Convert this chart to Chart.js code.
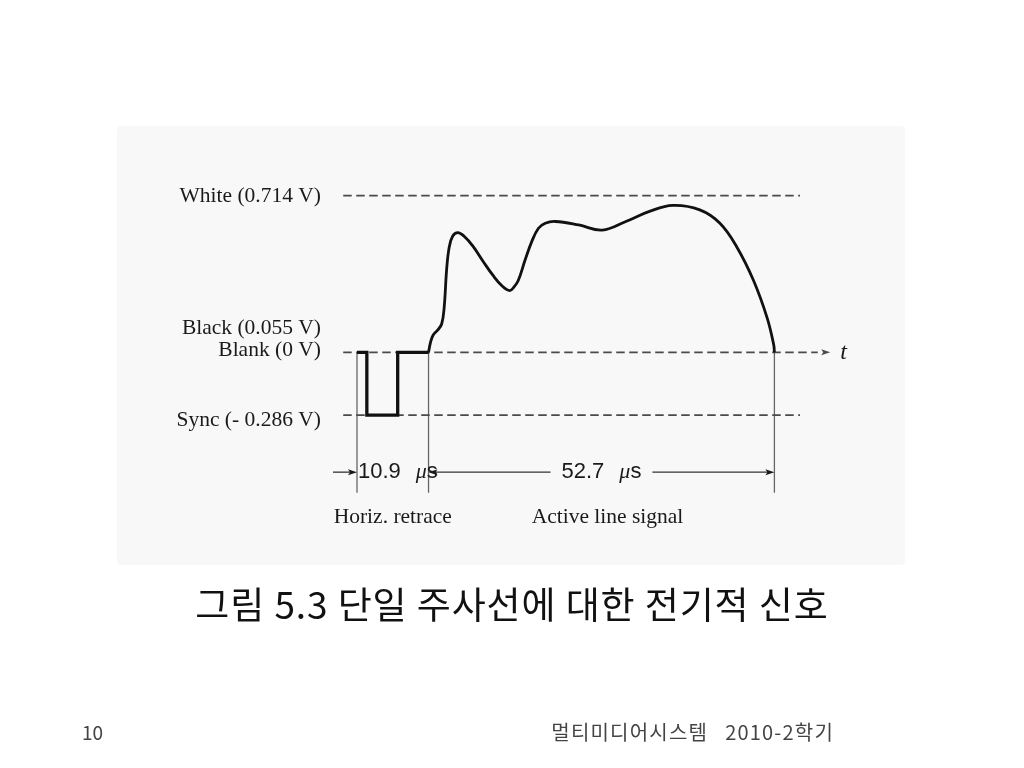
<!DOCTYPE html>
<html>
<head>
<meta charset="utf-8">
<script src="https://cdn.jsdelivr.net/npm/chart.js@4.4.0/dist/chart.umd.min.js"></script>
<style>
    html, body { margin: 0; padding: 0; background: #fff; }
    body { width: 1024px; height: 768px; position: relative; overflow: hidden; }
    #panel { position: absolute; left: 117px; top: 126px; width: 788px; height: 439px; background: #f8f8f8; border-radius: 4px; }
    #chart { position: absolute; left: 0; top: 0; }
    .caption { position: absolute; left: 0; width: 1024px; top: 585px; line-height: 36px; text-align: center;
               font-family: "Noto Sans CJK KR", sans-serif; font-size: 37px; letter-spacing: 0.9px; color: #111; }
    .footer { position: absolute; top: 722px; line-height: 20px; font-family: "Noto Sans CJK KR", sans-serif; font-size: 20px; color: #444; }
</style>
</head>
<body>
<div id="panel"></div>
<canvas id="chart" width="1024" height="768"></canvas>
<div class="caption">그림 5.3 단일 주사선에 대한 전기적 신호</div>
<div class="footer" style="left:82px; font-size:19px">10</div>
<div class="footer" style="right:190px; letter-spacing:1.2px">멀티미디어시스템&nbsp;&nbsp; 2010-2학기</div>
<script>
// signal levels (volts)
const levelLabels = ["White (0.714 V)", "Black (0.055 V)", "Blank (0 V)", "Sync (- 0.286 V)"];
const levelVolts = [0.714, 0.055, 0, -0.286];
const dashedLevels = [0.714, 0, -0.286];
const dashedFrom = -2.1;
const dashedTo = 67.5;
const axisTo = 70.2;
const axisTip = 72.1;

// horizontal retrace (time in microseconds)
const retraceTimes = [0, 1.5, 1.5, 6.2, 6.2, 10.9];
const retraceVolts = [0, 0, -0.286, -0.286, 0, 0];

// active line signal
const activeTimes = [10.9, 11.21, 11.59, 12.28, 12.9, 13.28, 13.67, 14.05, 14.59, 15.36, 16.28, 17.66,
    19.2, 20.73, 22.12, 23.27, 23.96, 24.57, 25.6, 26.61, 27.65, 28.68, 30.21, 33.79, 37.37,
    40.97, 44.56, 48.13, 52.23, 55.3, 57.87, 60.42, 62.48, 63.49, 63.6];
const activeVolts = [0, 0.046, 0.078, 0.101, 0.129, 0.203, 0.382, 0.479, 0.53, 0.545, 0.53, 0.484,
    0.415, 0.35, 0.302, 0.281, 0.299, 0.327, 0.419, 0.503, 0.565, 0.588, 0.596, 0.58, 0.557,
    0.596, 0.642, 0.669, 0.649, 0.588, 0.48, 0.327, 0.158, 0.035, 0];

// time markers and spans
const markerTimes = [0, 10.9, 63.6];
const markerBottom = -0.64;
const spanVolt = -0.546;
const spanValues = ["10.9", "52.7"];
const spanNames = ["Horiz. retrace", "Active line signal"];

// layout: pixel position of t=0 / V=0 and pixels per unit
const X0 = 357, KX = 6.563, Y0 = 352.3, KY = 219.5;
const X_MIN = -30, X_MAX = 90, Y_MIN = -0.7, Y_MAX = 1.0;

const toPoints = (xs, ys) => xs.map((x, i) => ({ x: x, y: ys[i] }));

const getData = () => {
    const datasets = [
        {
            data: toPoints(activeTimes, activeVolts),
            borderColor: "#111",
            borderWidth: 2.8,
            tension: 0.4,
        },
        {
            data: toPoints(retraceTimes, retraceVolts),
            borderColor: "#111",
            borderWidth: 3.3,
            tension: 0,
            borderJoinStyle: "miter",
        },
    ];
    dashedLevels.forEach(v => {
        datasets.push({
            data: [{ x: dashedFrom, y: v }, { x: v === 0 ? axisTo : dashedTo, y: v }],
            borderColor: "#4a4a4a",
            borderWidth: 1.7,
            borderDash: [8.5, 4.5],
            tension: 0,
        });
    });
    markerTimes.forEach(t => {
        datasets.push({
            data: [{ x: t, y: 0 }, { x: t, y: markerBottom }],
            borderColor: "#666",
            borderWidth: 1.3,
            tension: 0,
        });
    });
    return { datasets: datasets };
};

const arrowHead = (ctx, tipX, tipY, dir) => {
    ctx.beginPath();
    ctx.moveTo(tipX, tipY);
    ctx.lineTo(tipX - dir * 9, tipY - 3);
    ctx.lineTo(tipX - dir * 7, tipY);
    ctx.lineTo(tipX - dir * 9, tipY + 3);
    ctx.closePath();
    ctx.fill();
};

const drawSpanText = (ctx, value, left, y) => {
    ctx.textBaseline = "middle";
    ctx.textAlign = "left";
    ctx.font = "22px 'Liberation Sans'";
    ctx.fillText(value, left, y);
    let x = left + ctx.measureText(value).width + 15;
    ctx.font = "italic 22px 'Liberation Serif'";
    ctx.fillText("\u03bc", x, y);
    x += ctx.measureText("\u03bc").width;
    ctx.font = "22px 'Liberation Sans'";
    ctx.fillText("s", x, y);
    return x + ctx.measureText("s").width;
};

const spanTextWidth = (ctx, value) => {
    ctx.font = "22px 'Liberation Sans'";
    let w = ctx.measureText(value).width + 15 + ctx.measureText("s").width;
    ctx.font = "italic 22px 'Liberation Serif'";
    return w + ctx.measureText("\u03bc").width;
};

const annotations = {
    id: "annotations",
    afterDatasetsDraw(chart) {
        const { ctx, scales: { x, y } } = chart;
        ctx.save();
        ctx.fillStyle = "#1a1a1a";
        ctx.strokeStyle = "#333";

        // level labels
        const labelOffsets = [1, -12, -2, 5];
        ctx.font = "21.5px 'Liberation Serif'";
        ctx.textAlign = "right";
        ctx.textBaseline = "middle";
        levelLabels.forEach((label, i) => {
            ctx.fillText(label, x.getPixelForValue(0) - 36, y.getPixelForValue(levelVolts[i]) + labelOffsets[i]);
        });

        // time axis arrow + t
        const by = y.getPixelForValue(0);
        ctx.fillStyle = "#4a4a4a";
        arrowHead(ctx, x.getPixelForValue(axisTip), by, 1);
        ctx.fillStyle = "#1a1a1a";
        ctx.font = "italic 24px 'Liberation Serif'";
        ctx.textAlign = "left";
        ctx.fillText("t", x.getPixelForValue(axisTip) + 10, by);

        // span dimensions
        const sy = y.getPixelForValue(spanVolt);
        const m0 = x.getPixelForValue(markerTimes[0]);
        const m1 = x.getPixelForValue(markerTimes[1]);
        const m2 = x.getPixelForValue(markerTimes[2]);
        ctx.lineWidth = 1.3;
        ctx.beginPath();
        ctx.moveTo(m0 - 24, sy);
        ctx.lineTo(m0 - 4, sy);
        ctx.stroke();
        arrowHead(ctx, m0, sy, 1);
        drawSpanText(ctx, spanValues[0], m0 + 1, sy);

        const w2 = spanTextWidth(ctx, spanValues[1]);
        const left2 = (m1 + m2) / 2 - w2 / 2;
        drawSpanText(ctx, spanValues[1], left2, sy);
        ctx.beginPath();
        ctx.moveTo(m1 + 4, sy);
        ctx.lineTo(left2 - 11, sy);
        ctx.moveTo(left2 + w2 + 11, sy);
        ctx.lineTo(m2 - 4, sy);
        ctx.stroke();
        arrowHead(ctx, m1, sy, -1);
        arrowHead(ctx, m2, sy, 1);

        // span names
        ctx.font = "21.5px 'Liberation Serif'";
        ctx.textAlign = "center";
        ctx.fillText(spanNames[0], (m0 + m1) / 2, sy + 45);
        ctx.fillText(spanNames[1], (m1 + m2) / 2 + 6, sy + 45);
        ctx.restore();
    },
};

const getConfig = (data) => {
    return {
        type: "line",
        data: data,
        options: {
            responsive: false,
            animation: false,
            devicePixelRatio: 1,
            layout: {
                padding: {
                    left: X0 + KX * X_MIN,
                    right: 1024 - (X0 + KX * X_MAX),
                    top: Y0 - KY * Y_MAX,
                    bottom: 768 - (Y0 - KY * Y_MIN),
                },
            },
            elements: { point: { radius: 0 } },
            scales: {
                x: { type: "linear", min: X_MIN, max: X_MAX, display: false },
                y: { type: "linear", min: Y_MIN, max: Y_MAX, display: false },
            },
            plugins: {
                legend: { display: false },
                tooltip: { enabled: false },
            },
        },
        plugins: [annotations],
    };
};

const createChart = () => {
    const ctx = document.getElementById("chart").getContext("2d");
    new Chart(ctx, getConfig(getData()));
};

createChart();
</script>
</body>
</html>
